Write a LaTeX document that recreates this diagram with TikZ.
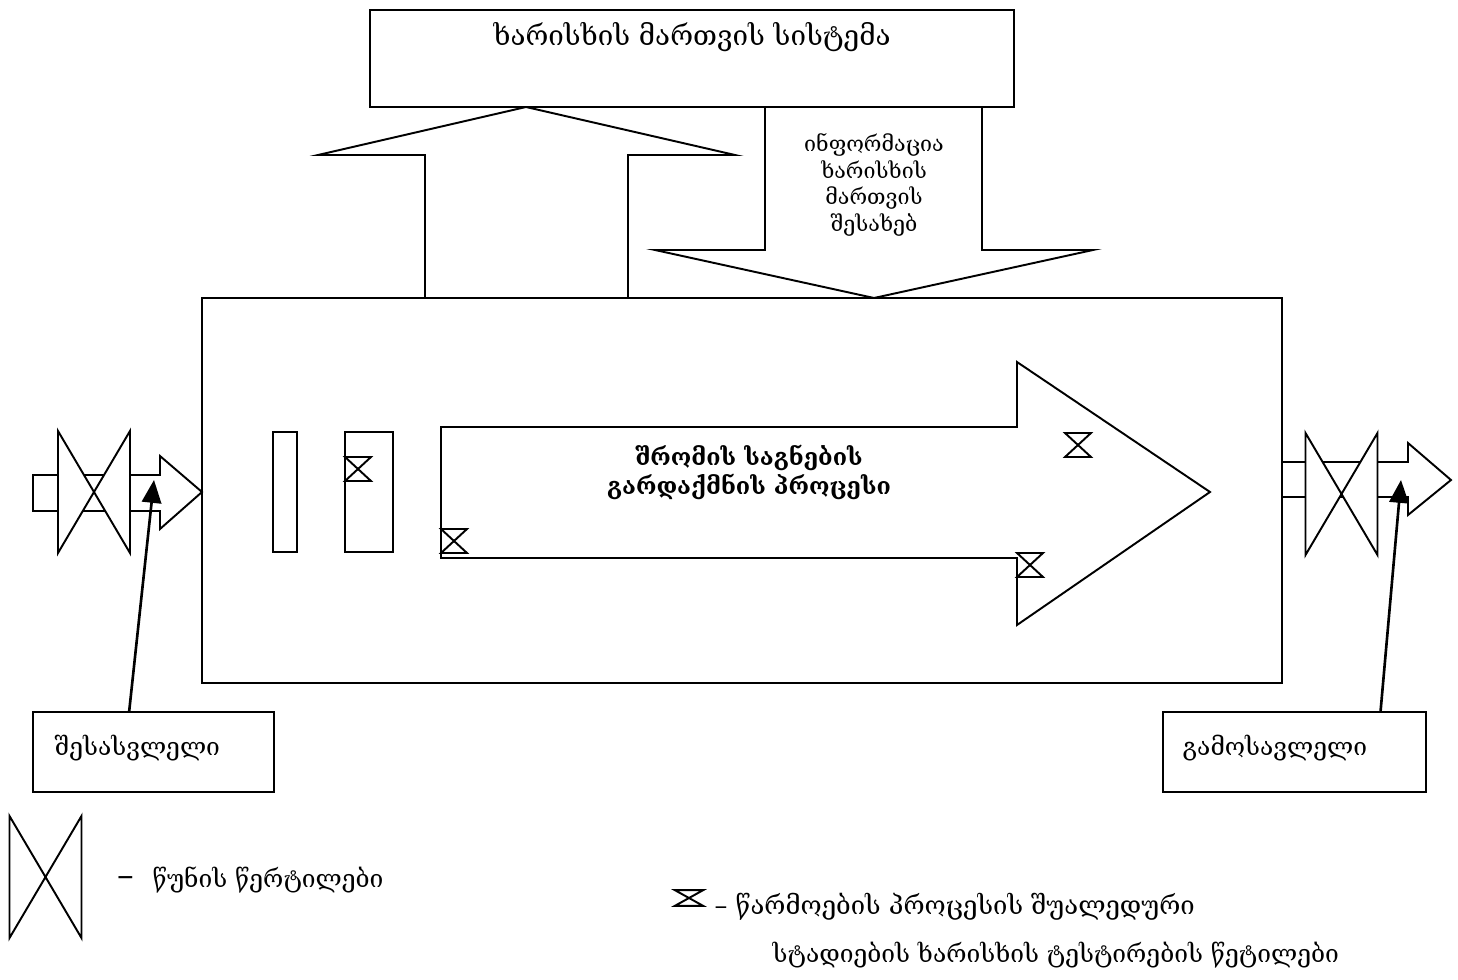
\documentclass[tikz,border=0pt]{standalone}
\usepackage{fontspec}
\setmainfont{DejaVu Serif}
\usetikzlibrary{arrows.meta,calc}

\tikzset{
  box/.style={draw, rectangle, inner sep=0pt},
  label text/.style={font=\fontsize{14}{17}\selectfont, inner sep=1pt},
  pointer/.style={line width=1.5pt, -{Triangle[length=13pt,width=11pt]}},
  gate/.pic={\draw (-13,-12) -- (13,-12) -- (-13,12) -- (13,12) -- cycle;},
  valve/.pic={\draw[fill=white] (-36,-61) -- (-36,61) -- (36,-61) -- (36,61) -- cycle;}
}

\begin{document}
\begin{tikzpicture}[x=0.02cm, y=-0.02cm, line width=1.1pt]
\useasboundingbox (0,0) rectangle (1458,980);

\node[box, minimum width=12.88cm, minimum height=1.94cm] (quality) at (692,58.5) {};
\node[label text, font=\fontsize{15.8}{19}\selectfont] (qualitytext) at (692,37) {ხარისხის მართვის სისტემა};

\draw (425,298) -- (425,155) -- (318,155) -- (526,107) -- (735,155) -- (628,155) -- (628,298);
\draw (765,107) -- (765,250) -- (655,250) -- (874,298) -- (1093,250) -- (982,250) -- (982,107);
\node[label text, font=\fontsize{12.2}{15.2}\selectfont, align=center] (info) at (874,185) {ინფორმაცია\\ხარისხის\\მართვის\\შესახებ};

\node[box, minimum width=21.6cm, minimum height=7.7cm] (plant) at (742,490.5) {};

\draw (441,427) -- (1017,427) -- (1017,362) -- (1210,492) -- (1017,625) -- (1017,558) -- (441,558) -- cycle;
\node[label text, font=\fontsize{13.3}{16.5}\selectfont\bfseries, align=center] (processtext) at (749,472) {შრომის საგნების\\გარდაქმნის პროცესი};

\node[box, minimum width=0.48cm, minimum height=2.4cm] (stageA) at (285,492) {};
\node[box, minimum width=0.96cm, minimum height=2.4cm] (stageB) at (369,492) {};

\foreach \x/\y in {358/469, 454/541, 1078/445, 1030/565}
  \pic at (\x,\y) {gate};

\draw (33,475) -- (160,475) -- (160,456) -- (202,492) -- (160,529) -- (160,511) -- (33,511) -- cycle;
\pic at (94,492) {valve};
\draw (1282,462) -- (1408,462) -- (1408,443) -- (1451,480) -- (1408,515) -- (1408,497) -- (1282,497);
\pic at (1341.5,494) {valve};

\node[box, minimum width=4.82cm, minimum height=1.6cm] (input) at (153.5,752) {};
\node[label text, anchor=west] (inputtext) at (52,748) {შესასვლელი};
\node[box, minimum width=5.26cm, minimum height=1.6cm] (output) at (1294.5,752) {};
\node[label text, anchor=west] (outputtext) at (1180,748) {გამოსავლელი};

\coordinate (inlet) at (154,480);
\coordinate (outlet) at (1401,480);
\draw[pointer] ($(input.north west)!0.4!(input.north east)$) -- (inlet);
\draw[pointer] ($(output.north west)!0.825!(output.north east)$) -- (outlet);

\pic at (45.5,877) {valve};
\node[label text, font=\fontsize{19}{22}\selectfont, anchor=west] (faultdash) at (115,882) {–};
\node[label text, anchor=west] (faulttext) at (150,880) {წუნის წერტილები};
\pic[xscale=1.08, yscale=0.65] at (689,898) {gate};
\node[label text, font=\fontsize{14.6}{17}\selectfont, anchor=west] (testtext) at (712,907) {– წარმოების პროცესის შუალედური};
\node[label text, anchor=west] (stagetext) at (770,955) {სტადიების ხარისხის ტესტირების წეტილები};
\end{tikzpicture}
\end{document}
